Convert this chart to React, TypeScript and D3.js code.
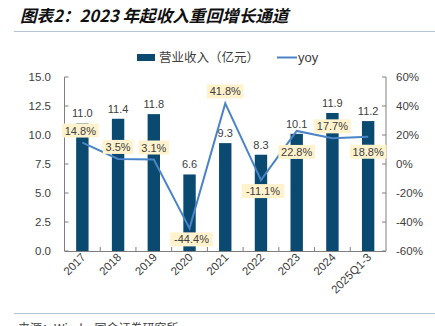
import React from "react";
import * as d3 from "d3";

const categories = ["2017", "2018", "2019", "2020", "2021", "2022", "2023", "2024", "2025Q1-3"];
const revenue = [11.0, 11.4, 11.8, 6.6, 9.3, 8.3, 10.1, 11.9, 11.2];
const yoy = [14.8, 3.5, 3.1, -44.4, 41.8, -11.1, 22.8, 17.7, 18.8];
const yoyLabelSide = [-1, -1, -1, 1, -1, 1, 1, -1, 1];
const leftTicks = [0, 2.5, 5, 7.5, 10, 12.5, 15];
const rightTicks = [-60, -40, -20, 0, 20, 40, 60];

const W = 435, H = 326;
const L = 64.5, R = 386, T = 77, B = 251;
const BAR = "#0B4A70";
const LINE = "#4A84C6";
const AXIS = "#7f7f7f";
const FONT = "Liberation Sans, Arial, sans-serif";
const CJK = "'Noto Sans CJK SC', sans-serif";

export default function App() {
  const band = d3.scaleBand<string>().domain(categories).range([L, R]);
  const yL = d3.scaleLinear().domain([0, 15]).range([B, T]);
  const yR = d3.scaleLinear().domain([-60, 60]).range([B, T]);
  const cx = (c: string) => (band(c) as number) + band.bandwidth() / 2;
  const bw = 12.4;
  const line = d3.line<number>().x((_, i) => cx(categories[i])).y((v) => yR(v));

  return (
    <svg width={W} height={H} style={{ position: "absolute", left: 0, top: 0, background: "#fff" }}>
      <text x={20} y={22} fontFamily={CJK} fontSize={16.6} fontStyle="italic" fontWeight={700} fill="#111">
        图表2：2023 年起收入重回增长通道
      </text>
      <line x1={14} x2={435} y1={31.5} y2={31.5} stroke="#b4c4d4" strokeWidth={1} />

      {/* legend */}
      <rect x={137} y={54} width={18} height={7} fill={BAR} />
      <text x={159} y={62} fontFamily={CJK} fontSize={12.5} fill="#404040">营业收入（亿元）</text>
      <line x1={277} x2={297} y1={57.5} y2={57.5} stroke={LINE} strokeWidth={2} />
      <text x={298} y={62} fontFamily={FONT} fontSize={13} fill="#404040">yoy</text>

      {/* bars */}
      {categories.map((c, i) => (
        <rect key={c} x={cx(c) - bw / 2} y={yL(revenue[i])} width={bw} height={B - yL(revenue[i])} fill={BAR} />
      ))}

      {/* axes */}
      <line x1={L} x2={L} y1={T} y2={B} stroke={AXIS} />
      <line x1={R} x2={R} y1={T} y2={B} stroke={AXIS} />
      <line x1={L} x2={R} y1={B + 0.5} y2={B + 0.5} stroke={AXIS} />
      {leftTicks.map((t) => (
        <g key={"l" + t}>
          <line x1={L} x2={L + 4} y1={yL(t)} y2={yL(t)} stroke={AXIS} />
          <text x={51} y={yL(t) + 4} textAnchor="end" fontFamily={FONT} fontSize={11.5} fill="#404040">
            {d3.format(".1f")(t)}
          </text>
        </g>
      ))}
      {rightTicks.map((t) => (
        <g key={"r" + t}>
          <line x1={R - 4} x2={R} y1={yR(t)} y2={yR(t)} stroke={AXIS} />
          <text x={396} y={yR(t) + 4} textAnchor="start" fontFamily={FONT} fontSize={11.5} fill="#404040">
            {t}%
          </text>
        </g>
      ))}
      {categories.map((c, i) => (
        <g key={"t" + c}>
          {i > 0 && <line x1={band(c)} x2={band(c)} y1={B} y2={B - 4} stroke={AXIS} />}
          <text
            transform={`translate(${cx(c) + 4},${258}) rotate(-45)`}
            textAnchor="end"
            fontFamily={FONT}
            fontSize={11.5}
            fill="#404040"
          >
            {c}
          </text>
        </g>
      ))}

      {/* bar value labels */}
      {categories.map((c, i) => (
        <text key={"v" + c} x={cx(c)} y={yL(revenue[i]) - 6} textAnchor="middle" fontFamily={FONT} fontSize={11} fill="#404040">
          {revenue[i].toFixed(1)}
        </text>
      ))}

      {/* yoy line */}
      <path d={line(yoy) || ""} fill="none" stroke={LINE} strokeWidth={2} />

      {/* yoy labels */}
      {categories.map((c, i) => {
        const label = yoy[i].toFixed(1) + "%";
        const wTxt = label.length * 6.1 + 2;
        const off = yoyLabelSide[i] < 0 ? -12 : (i === 6 ? 21 : i === 8 ? 15 : 11);
        const yc = yR(yoy[i]) + off;
        const xc = cx(c) + (i === 3 ? 2 : i === 5 ? 2 : 0) - (i === 0 ? 2 : 0);
        return (
          <g key={"y" + c}>
            <rect x={xc - wTxt / 2 - 2} y={yc - 7} width={wTxt + 4} height={14} fill="#FFF2CC" />
            <text x={xc} y={yc + 4} textAnchor="middle" fontFamily={FONT} fontSize={11} fill="#404040">
              {label}
            </text>
          </g>
        );
      })}

      <line x1={14} x2={435} y1={313.5} y2={313.5} stroke="#b4c4d4" strokeWidth={1} />
      <text x={18} y={333} fontFamily={CJK} fontSize={12} fill="#404040">来源：Wind，国金证券研究所</text>
    </svg>
  );
}
